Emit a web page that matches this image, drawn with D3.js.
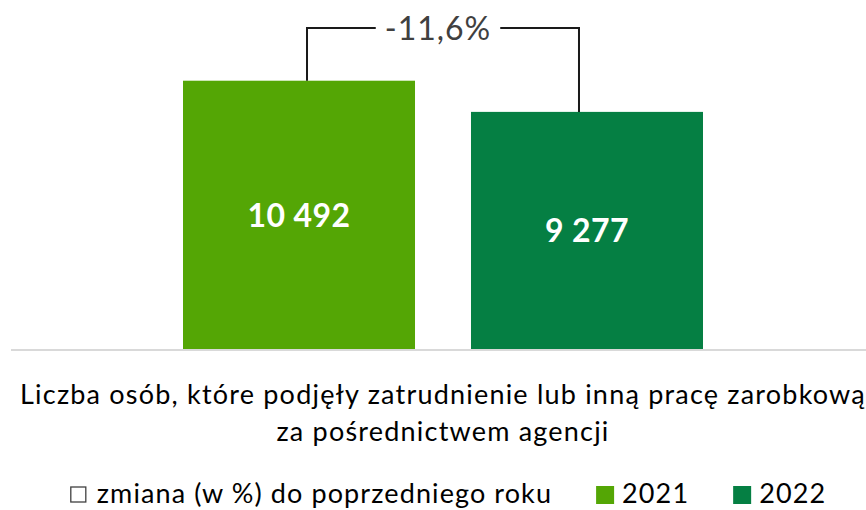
<!DOCTYPE html>
<html>
<head>
<meta charset="utf-8">
<script src="https://cdn.jsdelivr.net/npm/d3@7"></script>
<style>
  body { margin: 0; background: #fff; }
  svg { display: block; font-family: Lato, "Open Sans", sans-serif; }
</style>
</head>
<body>
<svg id="chart" width="866" height="510"></svg>
<script>
// data
var categories = ["Liczba osób, które podjęły zatrudnienie lub inną pracę zarobkową|za pośrednictwem agencji"];
var years = ["2021", "2022"];
var values2021 = [10492];
var values2022 = [9277];
var changeLabels = ["-11,6%"];
var legendLabels = ["zmiana (w %) do poprzedniego roku", "2021", "2022"];

var colors = { "2021": "#54a605", "2022": "#057f43" };

var svg = d3.select("#chart");
var baseY = 350;

var rows = categories.map(function(c, i) {
  return { cat: c, "2021": values2021[i], "2022": values2022[i], change: changeLabels[i] };
});

var x0 = d3.scaleBand()
    .domain(categories)
    .range([11, 875])
    .paddingOuter(0.3308)
    .paddingInner(0);

var x1 = d3.scaleBand()
    .domain(years)
    .range([0, x0.bandwidth()])
    .paddingInner(0.1944)
    .paddingOuter(0);

var y = d3.scaleLinear()
    .domain([0, 12000])
    .range([baseY, 42]);

var fmt = function(v) { return d3.format(",")(v).replace(/,/g, " "); };

var group = svg.append("g").selectAll("g")
    .data(rows)
    .enter().append("g")
    .attr("transform", function(d) { return "translate(" + x0(d.cat) + ",0)"; });

group.selectAll("rect")
    .data(function(d) { return years.map(function(k) { return { key: k, value: d[k] }; }); })
    .enter().append("rect")
    .attr("x", function(d) { return x1(d.key); })
    .attr("y", function(d) { return y(d.value); })
    .attr("width", x1.bandwidth())
    .attr("height", function(d) { return baseY - y(d.value); })
    .attr("fill", function(d) { return colors[d.key]; });

group.selectAll("text.val")
    .data(function(d) { return years.map(function(k) { return { key: k, value: d[k] }; }); })
    .enter().append("text")
    .attr("class", "val")
    .attr("x", function(d) { return x1(d.key) + x1.bandwidth() / 2; })
    .attr("y", function(d) { return (y(d.value) + baseY) / 2; })
    .attr("dy", "0.36em")
    .attr("text-anchor", "middle")
    .attr("fill", "#fff")
    .attr("font-weight", "bold")
    .attr("font-size", 32)
    .attr("letter-spacing", 0.4)
    .text(function(d) { return fmt(d.value); });

// bracket with change label
var bracketY = 28;
var inset = 8;
group.each(function(d) {
  var g = d3.select(this);
  var xa = x1("2021") + x1.bandwidth() / 2 + inset;
  var xb = x1("2022") + x1.bandwidth() / 2 - inset;
  var mid = (xa + xb) / 2 - 5;
  var lbl = g.append("text")
      .attr("x", mid)
      .attr("y", bracketY)
      .attr("dy", "0.36em")
      .attr("text-anchor", "middle")
      .attr("fill", "#404040")
      .attr("font-size", 32)
      .attr("letter-spacing", 1)
      .text(d.change);
  var w = lbl.node().getComputedTextLength();
  var gap = 9;
  var line = d3.line();
  g.insert("path", "text")
      .attr("d", line([[xa, y(d["2021"])], [xa, bracketY], [mid - w / 2 - gap, bracketY]]))
      .attr("fill", "none").attr("stroke", "#1a1a1a").attr("stroke-width", 2);
  g.insert("path", "text")
      .attr("d", line([[mid + w / 2 + gap, bracketY], [xb, bracketY], [xb, y(d["2022"])]]))
      .attr("fill", "none").attr("stroke", "#1a1a1a").attr("stroke-width", 2);
});

// x axis
var axis = d3.axisBottom(x0).tickSize(0).tickSizeOuter(0).tickFormat("");
var axG = svg.append("g")
    .attr("transform", "translate(0," + baseY + ")")
    .call(axis);
axG.select(".domain")
    .attr("d", "M11,0H866")
    .attr("stroke", "#d9d9d9")
    .attr("stroke-width", 2);

axG.selectAll(".tick").each(function(d) {
  var parts = d.split("|");
  var t = d3.select(this).append("text")
      .attr("text-anchor", "middle")
      .attr("fill", "#000")
      .attr("font-size", 27)
      .attr("letter-spacing", 1.2)
      .attr("font-family", "Lato, sans-serif");
  parts.forEach(function(p, i) {
    t.append("tspan").attr("x", 0).attr("y", 54 + i * 37).text(p);
  });
});

// legend
var legendY = 503;
var leg = svg.append("g");
var sq = 18, itemGap = 44;
var items = leg.selectAll("g")
    .data(legendLabels)
    .enter().append("g");
items.append("rect")
    .attr("width", function(d, i) { return i === 0 ? 15 : sq; })
    .attr("height", function(d, i) { return i === 0 ? 15 : sq; })
    .attr("y", function(d, i) { return i === 0 ? legendY - 16 : legendY - 17; })
    .attr("fill", function(d, i) { return i === 0 ? "#fff" : colors[d]; })
    .attr("stroke", function(d, i) { return i === 0 ? "#404040" : "none"; })
    .attr("stroke-width", 1.3);
items.append("text")
    .attr("x", function(d, i) { return i === 0 ? 26 : sq + 8; })
    .attr("y", legendY)
    .attr("fill", "#000")
    .attr("font-size", 27)
    .attr("letter-spacing", 1.1)
    .text(function(d) { return d; });
var cx = 0;
items.each(function(d, i) {
  var g = d3.select(this);
  var w = g.select("text").node().getComputedTextLength() + (i === 0 ? 26 : sq + 8);
  g.attr("transform", "translate(" + cx + ",0)");
  cx += w + itemGap;
});
var total = cx - itemGap;
leg.attr("transform", "translate(" + (448.5 - total / 2) + ",0)");
</script>
</body>
</html>
